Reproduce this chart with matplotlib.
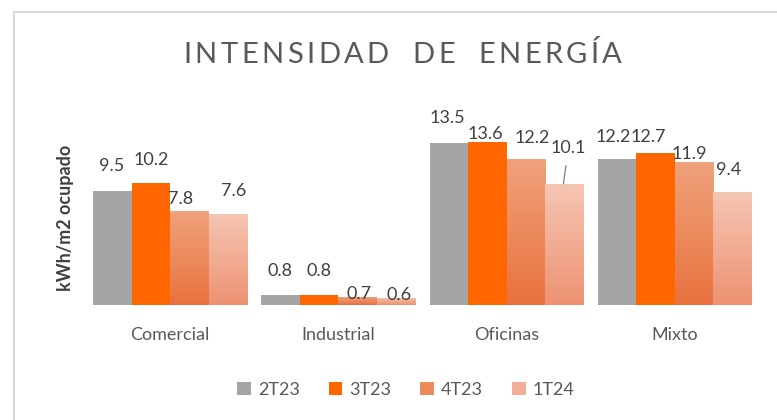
import numpy as np
import matplotlib
matplotlib.use('Agg')
from matplotlib import pyplot as plt
from matplotlib.patches import Rectangle
from matplotlib.colors import LinearSegmentedColormap

# datos
categories = ['Comercial', 'Industrial', 'Oficinas', 'Mixto']
series_names = ['2T23', '3T23', '4T23', '1T24']
v_2t23 = [9.5, 0.8, 13.5, 12.2]
v_3t23 = [10.2, 0.8, 13.6, 12.7]
v_4t23 = [7.8, 0.7, 12.2, 11.9]
v_1t24 = [7.6, 0.6, 10.1, 9.4]
title_text = 'INTENSIDAD DE ENERGÍA'
ylabel_text = 'kWh/m2 ocupado'

# estilos: (color arriba, color abajo) para cada serie
bar_colors = [('#A5A5A5', '#A5A5A5'),
              ('#FF6600', '#FF6600'),
              ('#F0A27C', '#E8723E'),
              ('#F5C6B4', '#EE9272')]
legend_colors = ['#A5A5A5', '#FF6600', '#EC8A5A', '#F2AE96']

# desplazamiento de etiquetas (px) respecto al centro superior de la barra
label_offsets = [[(0, 25), (0, 24), (0, 25), (-3, 22)],
                 [(1, 23), (1, 24), (-1, 8), (-6, 16)],
                 [(-8, 12), (2, 3), (7, 21), (-4, 8)],
                 [(7, 23), (4, 3), (5, 36), (-3, 22)]]
leader = [[False] * 4, [False] * 4, [False] * 4, [False, False, True, False]]

plt.rcParams['font.family'] = ['Lato', 'DejaVu Sans']
TXT = '#595959'

W, H = 777, 420
fig = plt.figure(figsize=(W / 100, H / 100), dpi=100)
ax = fig.add_axes([86 / W, 1 - 305 / H, (759 - 86) / W, 180 / H])


def gradient_bar(ax, rect, top_color, bottom_color):
    x, y = rect.get_x(), rect.get_y()
    w, h = rect.get_width(), rect.get_height()
    cmap = LinearSegmentedColormap.from_list('g', [bottom_color, top_color])
    grad = np.linspace(0, 1, 256).reshape(-1, 1)
    im = ax.imshow(grad, extent=[x, x + w, y, y + h], origin='lower',
                   cmap=cmap, aspect='auto', zorder=2, interpolation='bilinear')
    im.set_clip_path(rect)
    rect.set_facecolor('none')


x = np.arange(len(categories))
bw = 0.229
all_values = [v_2t23, v_3t23, v_4t23, v_1t24]
for s, vals in enumerate(all_values):
    bars = ax.bar(x + (s - 1.5) * bw, vals, bw, color=bar_colors[s][0],
                  edgecolor='none', zorder=2)
    for i, rect in enumerate(bars):
        if bar_colors[s][0] != bar_colors[s][1]:
            gradient_bar(ax, rect, bar_colors[s][0], bar_colors[s][1])
        cx = rect.get_x() + rect.get_width() / 2
        top = rect.get_height()
        dx, dy = label_offsets[s][i]
        kw = {}
        if leader[s][i]:
            kw['arrowprops'] = dict(arrowstyle='-', color='#7F7F7F', lw=0.9,
                                    shrinkA=5, shrinkB=0)
        ax.annotate(f'{vals[i]:.1f}', xy=(cx - 0.006, top), xytext=(dx, dy),
                    textcoords='offset pixels', ha='center', va='center',
                    fontsize=13, color='#404040', zorder=5, **kw)

ax.set_xlim(-0.5, len(categories) - 0.5)
ax.set_ylim(0, 15)
ax.set_xticks(x)
ax.set_xticklabels(categories, fontsize=13, color=TXT)
ax.tick_params(axis='x', length=0, pad=16)
ax.set_yticks([])
for sp in ax.spines.values():
    sp.set_visible(False)

# etiqueta del eje y
fig.text(65 / W, 1 - 218 / H, ylabel_text, rotation=90, ha='center',
         va='center', fontsize=13, fontweight='bold', color='#404040')

# título con espaciado entre letras
renderer = fig.canvas.get_renderer()
tkw = dict(fontsize=21, color=TXT, fontweight='normal')
widths = []
for ch in title_text:
    t = fig.text(0, 0, ch if ch != ' ' else 'n', **tkw)
    widths.append(t.get_window_extent(renderer).width)
    t.remove()
target_w = 439
spacing = (target_w - sum(widths)) / (len(title_text) - 1)
xpos = 183
for ch, wch in zip(title_text, widths):
    if ch != ' ':
        fig.text(xpos / W, 1 - 63 / H, ch, ha='left', va='baseline', **tkw)
    xpos += wch + spacing

# leyenda
handles = [Rectangle((0, 0), 1, 1, facecolor=c, edgecolor='none')
           for c in legend_colors]
fig.legend(handles, series_names, loc='center', bbox_to_anchor=(406 / W, 1 - 390 / H),
           ncol=4, frameon=False, fontsize=13, handlelength=0.75, handleheight=0.75,
           handletextpad=0.4, columnspacing=1.6, labelcolor=TXT)

# marco
fig.patches.append(Rectangle((14 / W, -0.2), 1.2, 1.2 - 12 / H, transform=fig.transFigure,
                             fill=False, edgecolor='#D9D9D9', lw=1.5))

fig.savefig('out.png', dpi=100)
